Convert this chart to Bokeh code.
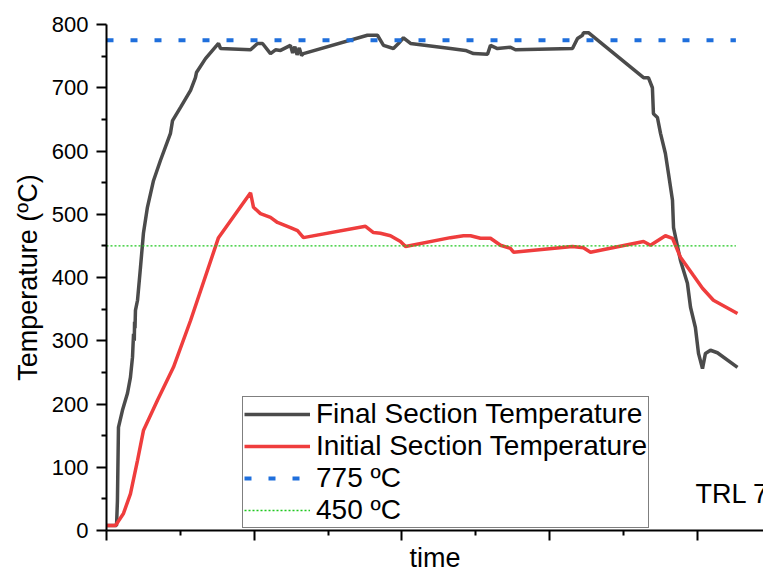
from bokeh.plotting import figure
from bokeh.models import FixedTicker, Legend, LegendItem, Label, Range1d
from bokeh.embed import file_html
from bokeh.resources import INLINE

# ---- data (time in arbitrary units, temperature in ºC) ----
final_time = [0, 0.68, 0.74, 0.81, 1.08, 1.42, 1.62, 1.76, 1.83, 1.88, 1.90, 1.93, 1.96, 2.10,
              2.30, 2.50, 2.77, 3.18, 3.65, 4.33, 4.47, 5.01, 5.69, 6.02, 6.09, 6.70, 7.58,
              7.72, 9.75, 10.22, 10.56, 11.10, 11.44, 11.78, 12.45, 12.6, 12.75, 12.9, 13.05,
              13.2, 13.33, 17.66, 18.34, 18.75, 19.42, 19.76, 20.10, 20.58, 23.28, 24.30,
              24.84, 25.79, 25.99, 26.46, 27.34, 27.68, 31.54, 31.88, 32.22, 32.28, 32.62,
              36.35, 36.68, 36.95, 37.02, 37.29, 37.50, 37.83, 38.04, 38.31, 38.38, 38.85,
              39.32, 39.53, 39.86, 40.07, 40.34, 40.54, 40.88, 41.35, 42.71]
final_temp = [8, 8, 47, 163, 190, 217, 242, 274, 311, 300, 330, 320, 348, 364,
              416, 470, 511, 553, 585, 628, 648, 669, 696, 716, 724, 746, 770,
              762, 760, 770, 770, 754, 760, 759, 767, 755, 765, 752, 763, 751,
              754, 783, 783, 767, 762, 770, 779, 770, 762, 759,
              754, 753, 767, 762, 764, 760, 762, 778, 783, 787, 787,
              716, 716, 700, 659, 653, 628, 596, 564, 522, 479, 427,
              391, 353, 321, 280, 256, 280, 285, 281, 258]

initial_time = [0, 0.61, 1.15, 1.62, 2.10, 2.50, 3.45, 4.53, 5.69, 7.58, 9.75, 9.95, 10.42,
                11.10, 11.57, 12.45, 12.93, 13.33, 17.53, 18.07, 18.54, 19.22, 19.90, 20.24,
                23.28, 24.16, 24.64, 25.31, 25.99, 26.67, 27.34, 27.55, 31.54, 32.28, 32.76,
                36.35, 36.82, 37.83, 38.31, 38.85, 39.73, 40.34, 41.08, 42.71]
initial_temp = [8, 8, 27, 58, 111, 158, 206, 258, 332, 463, 534, 511, 501,
                495, 487, 479, 474, 463, 481, 471, 470, 466, 457, 449,
                463, 466, 466, 462, 462, 451, 446, 440, 449, 447, 440,
                457, 451, 466, 462, 432, 403, 383, 364, 343]

ref_time = [0, 42.6]
ref_775 = [775, 775]
ref_450 = [450, 450]

y_ticks = [0, 100, 200, 300, 400, 500, 600, 700, 800]
y_minor = [50, 150, 250, 350, 450, 550, 650, 750]
x_ticks = [0, 10, 20, 30, 40]
x_minor = [5, 15, 25, 35, 45]

FONT = "Liberation Sans"

p = figure(width=763, height=576, output_backend="svg", toolbar_location=None,
           x_range=Range1d(0, 44.47), y_range=Range1d(0, 800),
           min_border_left=106, min_border_right=0, min_border_top=24, min_border_bottom=46)
p.outline_line_color = None
p.xgrid.visible = False
p.ygrid.visible = False

r_final = p.line(final_time, final_temp, line_color="#4b4b4b", line_width=3.5)
r_init = p.line(initial_time, initial_temp, line_color="#ef3d3d", line_width=3.5)
r_775 = p.line(ref_time, ref_775, line_color="#1f6fdc", line_width=4, line_dash="7 17")
r_450 = p.line(ref_time, ref_450, line_color="#1ec81e", line_width=1.4, line_dash="2 2")

for ax in (p.xaxis[0], p.yaxis[0]):
    ax.axis_line_width = 2
    ax.major_tick_line_width = 2
    ax.minor_tick_line_width = 2
    ax.major_tick_out = 10
    ax.major_tick_in = 0
    ax.minor_tick_out = 5
    ax.minor_tick_in = 0
    ax.axis_label_text_font = FONT
    ax.axis_label_text_font_style = "normal"
    ax.axis_label_text_font_size = "27px"
    ax.axis_label_text_color = "black"
    ax.major_label_text_font = FONT
    ax.major_label_text_color = "black"

p.yaxis.ticker = FixedTicker(ticks=y_ticks, minor_ticks=y_minor)
p.yaxis.major_label_text_font_size = "22px"
p.yaxis.major_label_standoff = 8
p.yaxis.axis_label = "Temperature (ºC)"
p.yaxis.axis_label_standoff = 6

p.xaxis.ticker = FixedTicker(ticks=x_ticks, minor_ticks=x_minor)
p.xaxis.major_label_overrides = {t: "" for t in x_ticks}
p.xaxis.major_label_text_font_size = "0px"
p.xaxis.major_label_standoff = 0
p.xaxis.axis_label = "time"
p.xaxis.axis_label_standoff = 2
p.xaxis.axis_label_text_line_height = 0.8

legend = Legend(items=[
    LegendItem(label="Final Section Temperature", renderers=[r_final]),
    LegendItem(label="Initial Section Temperature", renderers=[r_init]),
    LegendItem(label="775 ºC", renderers=[r_775]),
    LegendItem(label="450 ºC", renderers=[r_450]),
], location=(136, 2), border_line_color="black", border_line_width=1,
    padding=1, spacing=0, margin=0, label_height=32, glyph_height=32, glyph_width=66,
    label_standoff=6, label_text_font_size="28px", label_text_font=FONT,
    label_text_color="black", background_fill_alpha=1)
p.add_layout(legend)

p.add_layout(Label(x=39.86, y=58, text="TRL 7", text_font=FONT, text_font_size="27px",
                   text_color="black", text_baseline="alphabetic"))

open("out.html", "w").write(file_html(p, INLINE))
